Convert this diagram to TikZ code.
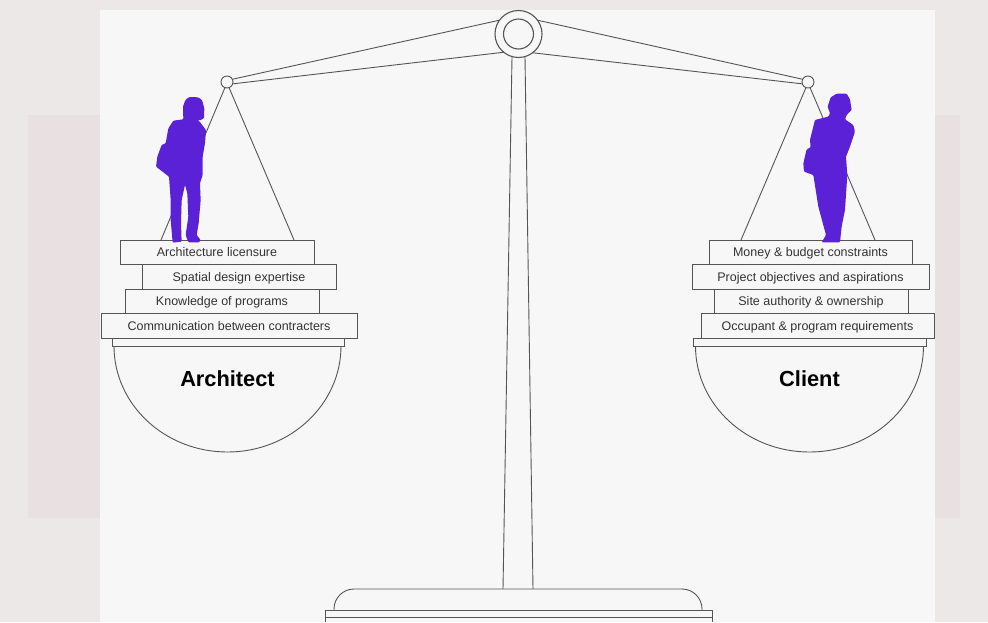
\documentclass[tikz,border=0pt]{standalone}
\usepackage{fontspec}
\setmainfont{Liberation Sans}
\definecolor{outerbg}{RGB}{236,232,231}
\definecolor{bandbg}{RGB}{232,224,225}
\definecolor{panelbg}{RGB}{247,247,247}
\definecolor{scaleline}{RGB}{85,85,85}
\definecolor{figcol}{RGB}{91,33,214}
\tikzset{
  part/.style={draw=scaleline,line width=.9pt},
  pivot/.style={circle,part,fill=panelbg,inner sep=0pt,outer sep=0pt},
  itembox/.style={part,fill=panelbg,inner sep=0pt,outer sep=0pt,minimum height=24.5pt,text height=9.8pt,text depth=1.6pt,text=black!80,font=\fontsize{12.5}{14}\selectfont},
  panlabel/.style={inner sep=0pt,font=\fontsize{21.8}{24}\selectfont\bfseries},
  figure/.style={fill=figcol,rounded corners=1pt}
}
\begin{document}
\begin{tikzpicture}[x=1pt,y=-1pt]
  \useasboundingbox (0,0) rectangle (988,622);
  % backdrop
  \fill[outerbg] (0,0) rectangle (988,622);
  \fill[bandbg] (28,115) rectangle (960,518);
  \fill[panelbg] (100,10) rectangle (935,622);

  % stand
  \draw[part] (512,57) -- (503,589);
  \draw[part] (525,57) -- (533,589);
  \draw[part,rounded corners=20pt] (334,610) -- (334,589) -- (702,589) -- (702,610);
  \node[part,inner sep=0pt,outer sep=0pt,minimum width=387pt,minimum height=7pt] (plate) at (518.5,613.5) {};
  \draw[part] (325,617) -- (325,622);
  \draw[part] (712,617) -- (712,622);

  % beam
  \node[pivot,minimum size=47pt,line width=1.1pt] (ring) at (518.5,34) {};
  \node[pivot,minimum size=30pt,line width=1.1pt] (hub) at (518.5,34) {};
  \node[pivot,minimum size=12pt] (pivotL) at (227,82) {};
  \node[pivot,minimum size=12pt] (pivotR) at (808,82) {};
  \draw[part] (pivotL.27) -- (ring.144);
  \draw[part] (pivotL.-18) -- (ring.231);
  \draw[part] (pivotR.153) -- (ring.36);
  \draw[part] (pivotR.198) -- (ring.-53);

  % left pan
  \coordinate (cordL1) at (161,240);
  \coordinate (cordL2) at (294,240);
  \draw[part] (pivotL.-110) -- (cordL1);
  \draw[part] (pivotL.-70) -- (cordL2);
  \node[itembox,minimum width=194pt] (archA) at (217,252.5) {Architecture licensure};
  \node[itembox,minimum width=194pt] (archB) at (239,277) {Spatial design expertise};
  \node[itembox,minimum width=194pt] (archC) at (222,301.5) {Knowledge of programs};
  \node[itembox,minimum width=256pt] (archD) at (229,326) {Communication between contracters};
  \node[part,inner sep=0pt,outer sep=0pt,minimum width=232pt,minimum height=8pt] (panL) at (228,342) {};
  \draw[part] (114,346) arc[start angle=180,end angle=0,x radius=113.5,y radius=106];
  \node[panlabel] (labelL) at (227.5,379) {Architect};
  \begin{scope}[shift={(100,60)},x=.3333pt,y=-.3333pt]
    \fill[figure] (295,112) -- (306,120) -- (313,145) -- (312,175) -- (298,182) -- (292,178) -- (300,186) -- (318,210) -- (315,250) -- (308,290) -- (308,345) -- (300,370) -- (302,420) -- (296,490) -- (290,525) -- (302,540) -- (298,547) -- (265,547) -- (257,525) -- (265,470) -- (262,400) -- (255,375) -- (245,420) -- (243,490) -- (245,545) -- (218,548) -- (212,480) -- (212,420) -- (207,350) -- (168,320) -- (172,290) -- (185,255) -- (197,250) -- (205,205) -- (220,182) -- (250,178) -- (249,140) -- (256,120) -- (268,111) -- cycle;
  \end{scope}

  % right pan
  \coordinate (cordR1) at (741,240);
  \coordinate (cordR2) at (875,240);
  \draw[part] (pivotR.-110) -- (cordR1);
  \draw[part] (pivotR.-70) -- (cordR2);
  \node[itembox,minimum width=203pt] (clientA) at (810.5,252.5) {Money \& budget constraints};
  \node[itembox,minimum width=237pt] (clientB) at (810.5,277) {Project objectives and aspirations};
  \node[itembox,minimum width=194pt] (clientC) at (811,301.5) {Site authority \& ownership};
  \node[itembox,minimum width=233pt] (clientD) at (817.5,326) {Occupant \& program requirements};
  \node[part,inner sep=0pt,outer sep=0pt,minimum width=233pt,minimum height=8pt] (panR) at (809.5,342) {};
  \draw[part] (695.5,346) arc[start angle=180,end angle=0,x radius=114,y radius=106];
  \node[panlabel] (labelR) at (809.5,379) {Client};
  \begin{scope}[shift={(690,60)},x=.3333pt,y=-.3333pt]
    \fill[figure] (470,101) -- (480,118) -- (485,150) -- (470,165) -- (465,178) -- (490,195) -- (495,215) -- (480,260) -- (468,290) -- (472,345) -- (465,450) -- (455,500) -- (450,547) -- (395,547) -- (408,525) -- (385,440) -- (370,345) -- (342,335) -- (340,310) -- (350,268) -- (362,262) -- (360,240) -- (375,180) -- (415,170) -- (420,160) -- (413,140) -- (422,112) -- (440,101) -- cycle;
  \end{scope}
\end{tikzpicture}
\end{document}
